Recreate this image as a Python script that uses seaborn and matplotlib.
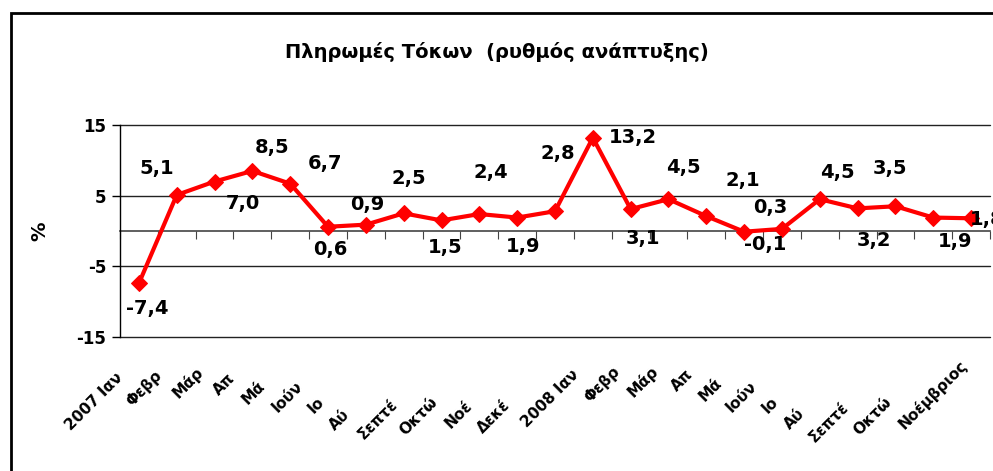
import pandas as pd
import seaborn as sns
import matplotlib.pyplot as plt
from matplotlib.patches import Rectangle
from matplotlib.transforms import ScaledTranslation

# monthly growth of interest payments, 2007 Jan .. 2008 Nov
months = ["2007 Ιαν", "Φεβρ", "Μάρ", "Απ", "Μά", "Ιούν", "Ιο", "Αύ", "Σεπτέ",
          "Οκτώ", "Νοέ", "Δεκέ", "2008 Ιαν", "Φεβρ", "Μάρ", "Απ", "Μά", "Ιούν",
          "Ιο", "Αύ", "Σεπτέ", "Οκτώ", "Νοέμβριος"]
growth = [-7.4, 5.1, 7.0, 8.5, 6.7, 0.6, 0.9, 2.5, 1.5, 2.4, 1.9, 2.8,
          13.2, 3.1, 4.5, 2.1, -0.1, 0.3, 4.5, 3.2, 3.5, 1.9, 1.8]
y_ticks = [-15, -5, 5, 15]

# label placement (pixels)
lab_dx = [8, -20, 28, 20, 35, 2, 1, 5, 4, 11, 6, 3, 40, 12, 15, 37, 21, -12, 18, 16, -5, 22, 16]
lab_dy = [-25, 26, -22, 23, 20, -23, 20, 35, -27, 42, -29, 58, 0, -29, 32, 36, -13, 21, 27, -32, 38, -24, -1]
tick_trim = [12, 10, 7, 13, 21, 21, 37, 49, 39, 37, 40, 40, 9, 6, 6, 9, 18, 21, 37, 48, 42, 37, 0]

df = pd.DataFrame({"pos": range(len(growth)), "growth": growth})

sns.set_style("white")
plt.rcParams["font.family"] = ["DejaVu Sans"]
plt.rcParams["text.color"] = "black"
plt.rcParams["xtick.color"] = "black"
plt.rcParams["ytick.color"] = "black"

W, H, DPI = 993, 471, 100
fig = plt.figure(figsize=(W / DPI, H / DPI), dpi=DPI)
ax = fig.add_axes([120 / W, 1 - 337 / H, 870 / W, 212 / H])

sns.lineplot(data=df, x="pos", y="growth", ax=ax, color="#ff0000", lw=3,
             marker="D", markersize=8, markeredgecolor="#ff0000", zorder=5)

ax.set_xlim(-0.5, len(growth) - 0.5)
ax.set_ylim(-15, 15)
ax.set_xlabel("")
ax.set_ylabel("")

ax.set_yticks(y_ticks)
ax.set_yticklabels([str(v) for v in y_ticks], fontsize=12, fontweight="bold", color="black")
ax.tick_params(axis="y", length=6, width=1, color="black", pad=4, left=True)
ax.yaxis.grid(True, color="#222222", lw=1)
ax.xaxis.grid(False)
for gl in ax.get_ygridlines():
    gl.set_clip_on(False)

for s in ["top", "right", "bottom"]:
    ax.spines[s].set_visible(False)
ax.spines["left"].set_color("black")
ax.spines["left"].set_linewidth(1)

# category axis crossing at zero with tick marks between categories
sec = ax.secondary_xaxis(0.5)
sec.set_alignment("bottom")
sec.set_xticks([p - 0.5 for p in range(len(growth) + 1)])
sec.tick_params(axis="x", direction="out", length=6, color="#444444", labelbottom=False, labeltop=False)
sec.spines["bottom"].set_color("#444444")
sec.spines["bottom"].set_linewidth(1.2)

# category labels at the bottom
ax.set_xticks(df["pos"])
ax.set_xticklabels(months, rotation=45, ha="right", va="center",
                   rotation_mode="anchor", fontsize=11, fontweight="bold", color="black")
ax.tick_params(axis="x", length=0, pad=0)
for lbl, t in zip(ax.get_xticklabels(), tick_trim):
    lbl.set_transform(lbl.get_transform() +
                      ScaledTranslation((-7 - t) / DPI, (-26 - t) / DPI, fig.dpi_scale_trans))

for i, v in enumerate(growth):
    ax.annotate(f"{v:.1f}".replace(".", ","), (i, v),
                xytext=(lab_dx[i], lab_dy[i]), textcoords="offset pixels",
                ha="center", va="center", fontsize=14, fontweight="bold",
                color="black", annotation_clip=False, zorder=6)

fig.text(0.5, 1 - 52 / H, "Πληρωμές Τόκων  (ρυθμός ανάπτυξης)",
         ha="center", va="center", fontsize=14, fontweight="bold", color="black")
fig.text(40 / W, 1 - 231 / H, "%", rotation=90, ha="center", va="center",
         fontsize=14, fontweight="bold", color="black")

fig.add_artist(Rectangle((11 / W, -0.1), 1.2, (H - 13) / H + 0.1,
                         transform=fig.transFigure, fill=False, lw=2,
                         ec="black"))

fig.savefig("out.png", dpi=DPI, facecolor="white")
